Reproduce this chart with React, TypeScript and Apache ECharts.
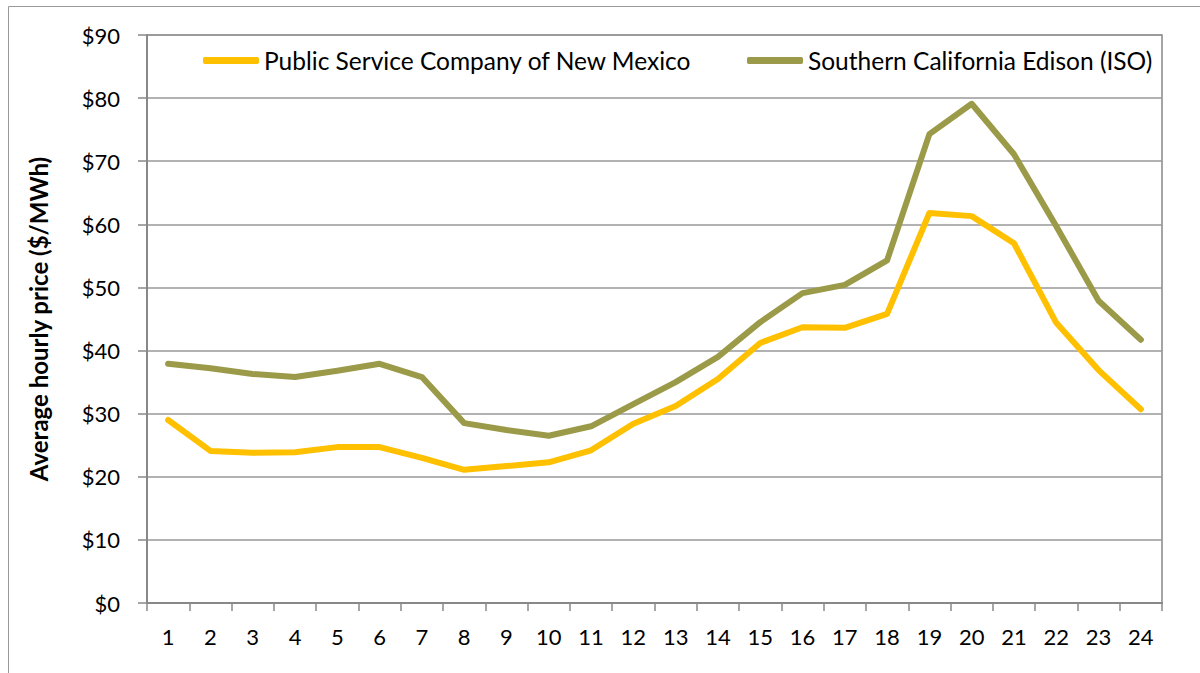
import React, { useEffect, useRef } from "react";
import * as echarts from "echarts";

const hours = ["1","2","3","4","5","6","7","8","9","10","11","12","13","14","15","16","17","18","19","20","21","22","23","24"];
const pnmName = "Public Service Company of New Mexico";
const sceName = "Southern California Edison (ISO)";
const pnmValues = [29.0, 24.1, 23.8, 23.9, 24.7, 24.7, 23.0, 21.1, 21.7, 22.3, 24.2, 28.4, 31.2, 35.5, 41.2, 43.7, 43.6, 45.8, 61.8, 61.3, 57.0, 44.4, 36.9, 30.7];
const sceValues = [37.9, 37.2, 36.3, 35.8, 36.8, 37.9, 35.8, 28.5, 27.4, 26.5, 28.0, 31.5, 35.0, 39.0, 44.5, 49.1, 50.4, 54.3, 74.3, 79.1, 71.1, 59.7, 47.9, 41.7];
const yTitle = "Average hourly price ($/MWh)";

const FONT = "Lato, 'Noto Sans', sans-serif";
const YELLOW = "#FFC000";
const OLIVE = "#9A9A48";

export default function App() {
  const ref = useRef<HTMLDivElement>(null);
  useEffect(() => {
    if (!ref.current) return;
    const chart = echarts.init(ref.current, null, { renderer: "svg" });
    const legendText = { fontFamily: FONT, fontSize: 24.5, color: "#000" };
    chart.setOption({
      animation: false,
      backgroundColor: "#fff",
      graphic: [
        {
          type: "rect",
          shape: { x: 8.5, y: 6.5, width: 1200, height: 700 },
          style: { fill: "none", stroke: "#999", lineWidth: 1 },
          silent: true,
        },
      ],
      legend: [
        {
          data: [{ name: pnmName, icon: "roundRect" }],
          left: 203,
          top: 48,
          padding: 0,
          itemWidth: 56,
          itemHeight: 7,
          textStyle: legendText,
        },
        {
          data: [{ name: sceName, icon: "roundRect" }],
          left: 747,
          top: 48,
          padding: 0,
          itemWidth: 56,
          itemHeight: 7,
          textStyle: legendText,
        },
      ],
      grid: {
        left: 147,
        right: 38,
        top: 35,
        bottom: 70,
        show: true,
        borderColor: "#888",
        borderWidth: 1.5,
        containLabel: false,
      },
      xAxis: {
        type: "category",
        data: hours,
        boundaryGap: true,
        axisLine: { lineStyle: { color: "#888", width: 2 } },
        axisTick: { show: true, length: 8, inside: false, lineStyle: { color: "#888", width: 1.5 } },
        axisLabel: { fontFamily: FONT, fontSize: 22, color: "#000", margin: 22, interval: 0 },
        splitLine: { show: false },
      },
      yAxis: {
        type: "value",
        min: 0,
        max: 90,
        interval: 10,
        name: yTitle,
        nameLocation: "middle",
        nameGap: 97,
        nameRotate: 90,
        nameTextStyle: { fontFamily: FONT, fontSize: 24, fontWeight: "bold", color: "#000" },
        axisLine: { show: true, lineStyle: { color: "#888", width: 2 } },
        axisTick: { show: true, length: 9, inside: false, lineStyle: { color: "#888", width: 1.5 } },
        axisLabel: {
          fontFamily: FONT,
          fontSize: 22,
          color: "#000",
          margin: 27,
          formatter: (v: number) => "$" + v,
        },
        splitLine: { show: true, lineStyle: { color: "#999", width: 1.5 } },
      },
      series: [
        {
          name: pnmName,
          type: "line",
          data: pnmValues,
          symbol: "none",
          lineStyle: { color: YELLOW, width: 6, cap: "round", join: "round" },
          itemStyle: { color: YELLOW },
        },
        {
          name: sceName,
          type: "line",
          data: sceValues,
          symbol: "none",
          lineStyle: { color: OLIVE, width: 6, cap: "round", join: "round" },
          itemStyle: { color: OLIVE },
        },
      ],
    });
    return () => chart.dispose();
  }, []);
  return (
    <div
      ref={ref}
      style={{ position: "fixed", left: 0, top: 0, width: 1200, height: 673 }}
    />
  );
}
